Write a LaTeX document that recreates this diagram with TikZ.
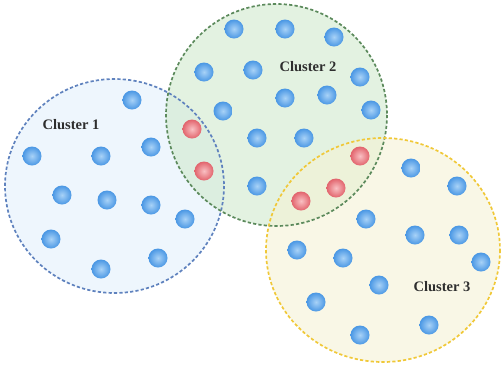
\documentclass[tikz,border=0pt]{standalone}
\usepackage{fontspec}
\setmainfont{Liberation Serif}
\definecolor{c1fill}{HTML}{EEF6FD}
\definecolor{c1line}{HTML}{5F82BE}
\definecolor{c2fill}{HTML}{D0E9CD}
\definecolor{c2line}{HTML}{5C8A5C}
\definecolor{c3fill}{HTML}{F5F2D5}
\definecolor{c3line}{HTML}{F0C838}
\definecolor{bin}{HTML}{A8D2F7}
\definecolor{bout}{HTML}{4A97E4}
\definecolor{rin}{HTML}{F9C0C3}
\definecolor{rout}{HTML}{E2646D}
\definecolor{ltext}{HTML}{2E2E2E}
\tikzset{
  x=1pt, y=-1pt,
  cborder/.style={dash pattern=on 3.2pt off 2.2pt, line width=1.7pt},
  bdot/.style={circle, minimum size=19pt, inner sep=0pt, inner color=bin, outer color=bout},
  rdot/.style={circle, minimum size=19pt, inner sep=0pt, inner color=rin, outer color=rout},
  clabel/.style={font=\bfseries\fontsize{14.5}{17}\selectfont, text=ltext}
}
\begin{document}
\begin{tikzpicture}
\useasboundingbox (0,0) rectangle (501,373);
% fills
\fill[c1fill] (114.5,186) ellipse [x radius=109.5, y radius=107];
\fill[c2fill, fill opacity=0.6] (276.5,115) ellipse [x radius=110.5, y radius=111];
\fill[c3fill, fill opacity=0.6] (383,250) ellipse [x radius=117, y radius=112];
% borders
\draw[cborder, c1line] (114.5,186) ellipse [x radius=109.5, y radius=107];
\draw[cborder, c2line] (276.5,115) ellipse [x radius=110.5, y radius=111];
\draw[cborder, c3line] (383,250) ellipse [x radius=117, y radius=112];
% labels
\node[clabel] (l1) at (71,125) {Cluster 1};
\node[clabel] (l2) at (308,67) {Cluster 2};
\node[clabel] (l3) at (442,287) {Cluster 3};
% cluster 1 dots
\node[bdot] (a1) at (132,100) {};
\node[bdot] (a2) at (32,156) {};
\node[bdot] (a3) at (101,156) {};
\node[bdot] (a4) at (151,147) {};
\node[bdot] (a5) at (62,195) {};
\node[bdot] (a6) at (107,200) {};
\node[bdot] (a7) at (151,205) {};
\node[bdot] (a8) at (185,219) {};
\node[bdot] (a9) at (51,239) {};
\node[bdot] (a10) at (101,269) {};
\node[bdot] (a11) at (158,258) {};
\node[rdot] (r1) at (192,129) {};
\node[rdot] (r2) at (204,171) {};
% cluster 2 dots
\node[bdot] (b1) at (234,29) {};
\node[bdot] (b2) at (285,29) {};
\node[bdot] (b3) at (334,37) {};
\node[bdot] (b4) at (204,72) {};
\node[bdot] (b5) at (253,70) {};
\node[bdot] (b6) at (360,77) {};
\node[bdot] (b7) at (223,111) {};
\node[bdot] (b8) at (285,98) {};
\node[bdot] (b9) at (327,95) {};
\node[bdot] (b10) at (371,110) {};
\node[bdot] (b11) at (257,138) {};
\node[bdot] (b12) at (304,138) {};
\node[bdot] (b13) at (257,186) {};
\node[rdot] (r3) at (360,156) {};
\node[rdot] (r4) at (336,188) {};
\node[rdot] (r5) at (301,201) {};
% cluster 3 dots
\node[bdot] (c1) at (411,168) {};
\node[bdot] (c2) at (457,186) {};
\node[bdot] (c3) at (366,219) {};
\node[bdot] (c4) at (415,235) {};
\node[bdot] (c5) at (459,235) {};
\node[bdot] (c6) at (297,250) {};
\node[bdot] (c7) at (343,258) {};
\node[bdot] (c8) at (481,262) {};
\node[bdot] (c9) at (379,285) {};
\node[bdot] (c10) at (316,302) {};
\node[bdot] (c11) at (429,325) {};
\node[bdot] (c12) at (360,335) {};
\end{tikzpicture}
\end{document}
